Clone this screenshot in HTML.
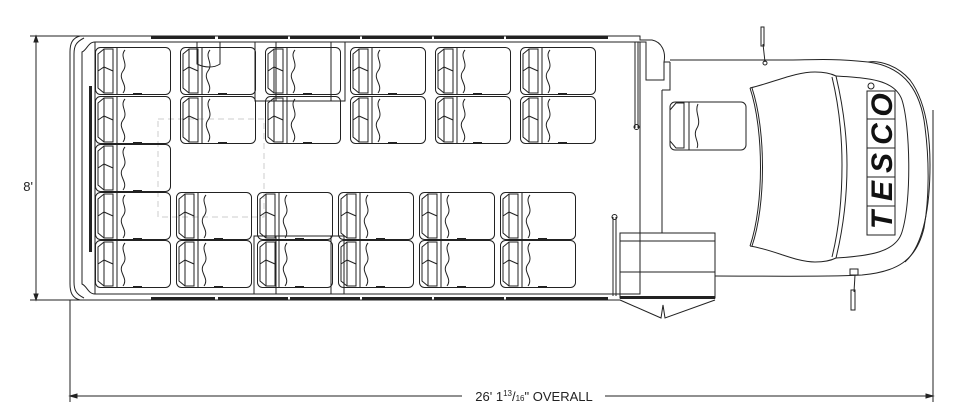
<!DOCTYPE html>
<html><head><style>html,body{margin:0;padding:0;background:#fff}svg{display:block}</style></head>
<body>
<svg width="964" height="411" viewBox="0 0 964 411" xmlns="http://www.w3.org/2000/svg" fill="none" stroke="#222" stroke-width="1">
<defs>
<g id="seat">
<rect x="0.5" y="0.5" width="75" height="47" rx="5"/>
<path d="M3,7 L9,2 L18,2 L18,46 L9,46 L3,41 Z"/>
<path d="M3,24 L9,20 L18,24 M9,2 L9,46" />
<line x1="22" y1="1" x2="22" y2="47"/>
<path d="M30,3 C24,10 34,16 28,24 C22,32 34,38 28,46"/>
<rect x="38" y="46" width="9" height="2" fill="#222" stroke="none"/>
</g>
</defs>
<line x1="30" y1="36" x2="80" y2="36"/><line x1="30" y1="300" x2="80" y2="300"/>
<line x1="36" y1="36" x2="36" y2="300"/>
<path d="M36,36 l-2,6 h4z M36,300 l-2,-6 h4z" fill="#222"/>
<text x="33" y="191" font-family="Liberation Sans, sans-serif" font-size="13" fill="#222" stroke="none" text-anchor="end">8'</text>
<line x1="70" y1="300" x2="70" y2="402"/><line x1="933" y1="110" x2="933" y2="402"/>
<line x1="70" y1="396" x2="462" y2="396"/><line x1="605" y1="396" x2="933" y2="396"/>
<path d="M70,396 l7,-2 v4z M933,396 l-7,-2 v4z" fill="#222"/>
<text x="534" y="401" font-family="Liberation Sans, sans-serif" font-size="13" fill="#222" stroke="none" text-anchor="middle">26' 1<tspan font-size="8" dy="-5">13</tspan><tspan dy="5">/</tspan><tspan font-size="8">16</tspan>" OVERALL</text>
<path d="M80,36 L640,36 L640,40 L652,40 C662,42 666,52 664,62 L670,62"/>
<path d="M80,300 L620,300"/>
<path d="M80,36 C72,38 70,44 70,52 L70,284 C70,292 72,298 80,300"/>
<path d="M84,38 C76,42 74,46 74,54 L74,282 C74,290 76,294 84,298"/>
<path d="M95,42 C88,42 87,50 82,52 L82,284 C87,286 88,294 95,294"/>
<rect x="95" y="42" width="545" height="252"/>
<rect x="89" y="86" width="3" height="166" fill="#222" stroke="none"/>
<g fill="#222" stroke="none">
<rect x="151" y="36" width="64" height="3"/><rect x="218" y="36" width="70" height="3"/><rect x="290" y="36" width="70" height="3"/><rect x="362" y="36" width="70" height="3"/><rect x="434" y="36" width="70" height="3"/><rect x="506" y="36" width="102" height="3"/>
<rect x="151" y="297" width="64" height="3"/><rect x="218" y="297" width="70" height="3"/><rect x="290" y="297" width="70" height="3"/><rect x="362" y="297" width="70" height="3"/><rect x="434" y="297" width="70" height="3"/><rect x="506" y="297" width="102" height="3"/>
</g>
<rect x="158" y="119" width="106" height="98" stroke="#ccc" stroke-dasharray="6,4"/>
<use href="#seat" x="95" y="47"/><use href="#seat" x="95" y="96"/><use href="#seat" x="95" y="144"/><use href="#seat" x="95" y="192"/><use href="#seat" x="95" y="240"/>
<use href="#seat" x="180" y="47"/><use href="#seat" x="180" y="96"/>
<use href="#seat" x="265" y="47"/><use href="#seat" x="265" y="96"/>
<use href="#seat" x="350" y="47"/><use href="#seat" x="350" y="96"/>
<use href="#seat" x="435" y="47"/><use href="#seat" x="435" y="96"/>
<use href="#seat" x="520" y="47"/><use href="#seat" x="520" y="96"/>
<use href="#seat" x="176" y="192"/><use href="#seat" x="176" y="240"/>
<use href="#seat" x="257" y="192"/><use href="#seat" x="257" y="240"/>
<use href="#seat" x="338" y="192"/><use href="#seat" x="338" y="240"/>
<use href="#seat" x="419" y="192"/><use href="#seat" x="419" y="240"/>
<use href="#seat" x="500" y="192"/><use href="#seat" x="500" y="240"/>
<rect x="255" y="42" width="90" height="59"/><rect x="276" y="42" width="55" height="59"/>
<rect x="254" y="236" width="90" height="58"/><rect x="276" y="236" width="55" height="58"/>
<path d="M197,42 L197,64 C205,68 214,68 220,64 L220,42"/>
<path d="M640,42 L646,42 L646,80 L664,80 L664,62"/>
<path d="M670,62 L670,90 L662,90"/>
<line x1="662" y1="90" x2="662" y2="233"/>
<line x1="635" y1="42" x2="635" y2="128"/><line x1="638" y1="42" x2="638" y2="128"/><circle cx="636.5" cy="127" r="2.5"/>
<line x1="613" y1="217" x2="613" y2="296"/><line x1="616" y1="217" x2="616" y2="296"/><circle cx="614.5" cy="217" r="2.5"/>
<rect x="670" y="102" width="76" height="48" rx="5"/>
<path d="M670,110 L676,103 L684,103 L684,148 L676,148 L670,141 Z"/>
<line x1="689" y1="102" x2="689" y2="150"/>
<path d="M698,104 C694,112 702,120 697,128 C692,136 700,142 697,148"/>
<path d="M670,60 L790,60 C810,60 830,58 868,62 C900,66 918,85 924,120 C930,160 929,200 924,228 C916,262 895,272 862,275 C830,277 760,276 715,276"/>
<path d="M868,62 C880,60 898,66 910,80 C925,100 930,130 930,165 C930,205 924,245 905,262"/>
<path d="M750,88 C775,82 795,72 815,72 C825,72 832,74 836,76"/>
<path d="M750,88 C764,130 764,205 750,246"/>
<path d="M752,88 C766,130 766,205 752,246"/>
<path d="M750,246 C775,250 795,262 815,262 C825,262 832,260 836,258"/>
<path d="M836,76 C844,110 847,140 847,165 C847,195 844,225 836,258"/>
<path d="M832,77 C840,110 842,140 842,165 C842,195 840,225 832,257"/>
<path d="M836,76 C870,78 895,80 902,100 C910,125 912,200 902,232 C896,252 870,256 836,258"/>
<g transform="translate(881,163) rotate(-90)">
<rect x="-72" y="-14" width="144" height="28" fill="#fff"/>
<line x1="-43" y1="-14" x2="-43" y2="14"/><line x1="-14" y1="-14" x2="-14" y2="14"/><line x1="15" y1="-14" x2="15" y2="14"/><line x1="44" y1="-14" x2="44" y2="14"/>
<g font-family="Liberation Sans, sans-serif" font-weight="bold" font-style="italic" font-size="30" fill="#111" stroke="none" text-anchor="middle">
<text x="-57" y="11">T</text>
<text x="-28" y="11">E</text>
<text x="0" y="11">S</text>
<text x="29" y="11">C</text>
<text x="58" y="11">O</text>
</g>
<circle cx="77" cy="-10" r="3"/>
</g>
<rect x="761" y="27" width="3" height="19"/><line x1="763" y1="44" x2="765" y2="62"/><circle cx="765" cy="63" r="2"/>
<rect x="850" y="269" width="8" height="6"/><line x1="855" y1="275" x2="854" y2="292"/><rect x="851" y="290" width="4" height="20"/>
<rect x="620" y="233" width="95" height="65"/>
<line x1="620" y1="241" x2="715" y2="241"/>
<line x1="620" y1="272" x2="715" y2="272"/>
<rect x="620" y="296" width="95" height="3" fill="#222" stroke="none"/>
<path d="M620,300 L661,318 L663,305 L665,318 L715,300"/>
</svg>
</body></html>
